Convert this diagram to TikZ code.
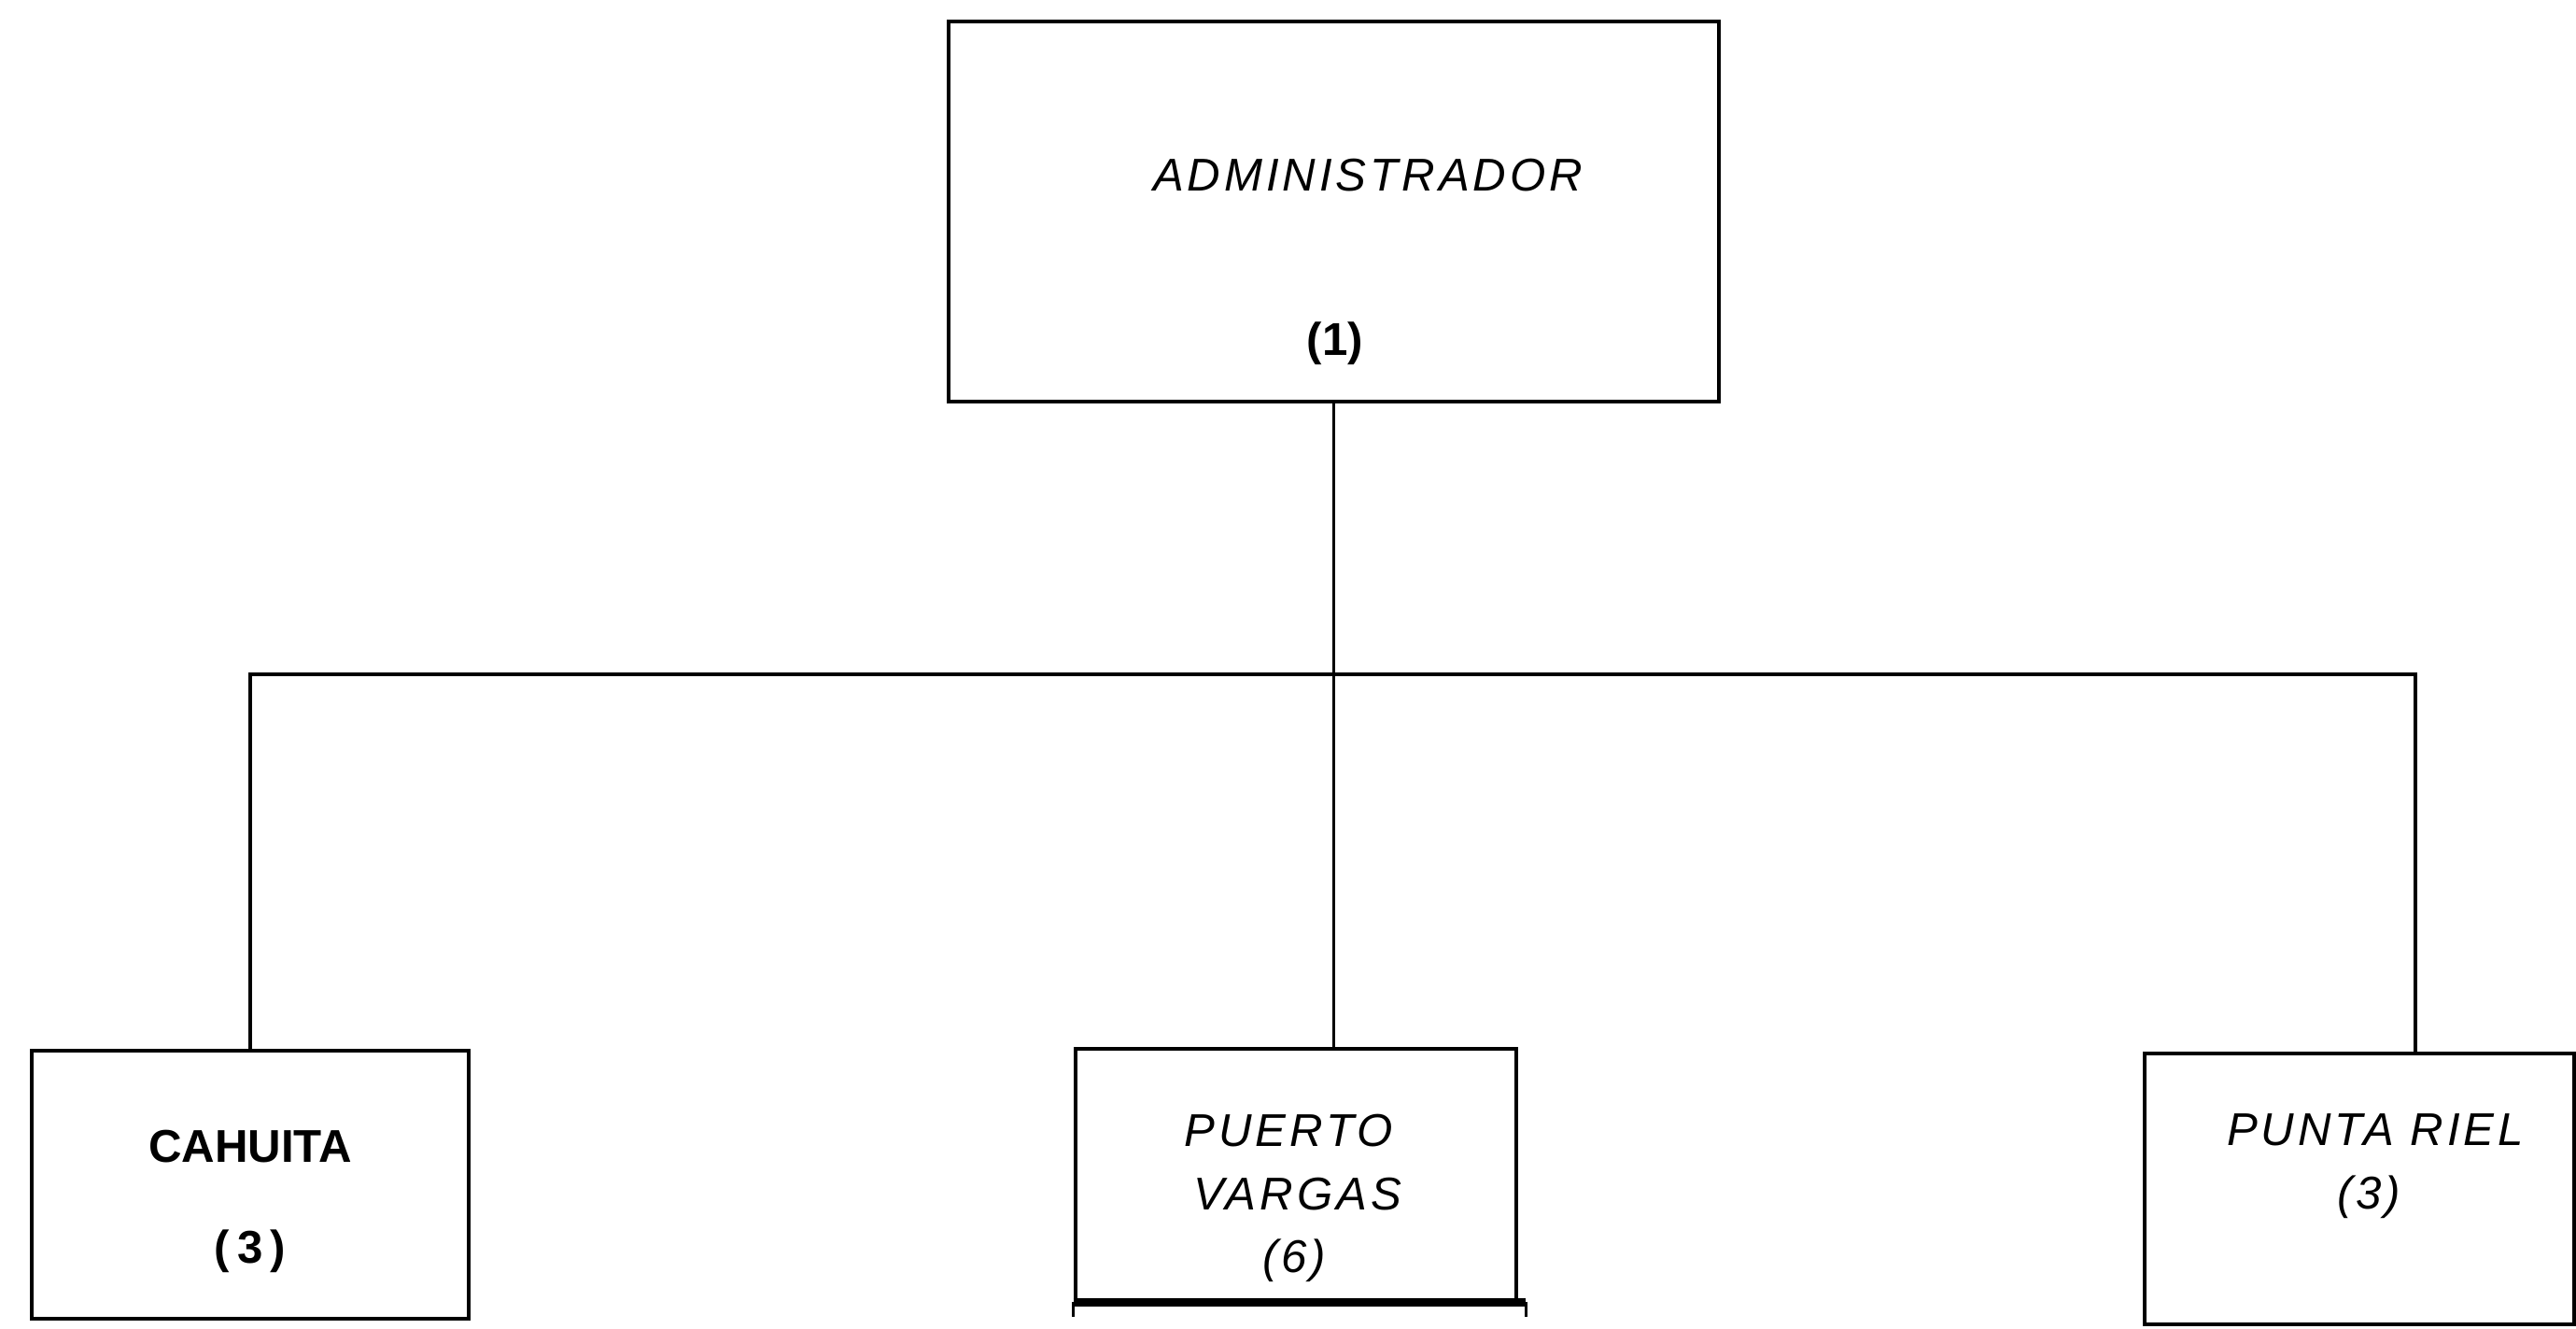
\documentclass[tikz,border=0pt]{standalone}
\usepackage{fontspec}
\setmainfont{Liberation Sans}
\usepackage{tikz}
\usetikzlibrary{positioning}

\tikzset{
  box/.style={draw,line width=1.3pt,rectangle,inner sep=0pt},
  link/.style={line width=1pt},
  bold/.style={font=\fontsize{14}{17}\selectfont\bfseries},
  slant/.style={font=\fontsize{14}{17}\selectfont\itshape\addfontfeature{LetterSpace=8}}
}

\begin{document}
\begin{tikzpicture}
\useasboundingbox (0,0) rectangle (27.59,-14.22);
% cajas
\node[box,minimum width=8.25cm,minimum height=4.07cm](adm) at (14.285,-2.265){};
\node[box,minimum width=4.68cm,minimum height=2.87cm](cah) at (2.68,-12.685){};
\node[box,minimum width=4.72cm,minimum height=2.69cm](pv) at (13.88,-12.575){};
\node[box,minimum width=4.60cm,minimum height=2.90cm](pr) at (25.27,-12.73){};
% textos
\node[slant](admt) at (14.65,-1.88){ADMINISTRADOR};
\node[bold](admn) at (14.30,-3.68){(1)};
\node[bold](caht) at (2.68,-12.28){CAHUITA};
\node[bold](cahn) at (2.68,-13.40){(\,3\,)};
\node[slant](pvt) at (13.80,-12.11){PUERTO};
\node[slant](pvv) at (13.90,-12.79){VARGAS};
\node[slant](pvn) at (13.86,-13.50){(6)};
\node[slant](prt) at (25.44,-12.10){PUNTA RIEL};
\node[slant](prn) at (25.37,-12.82){(3)};
% lineas
\coordinate (bus) at (14.28,-7.22);
\draw[link](adm.south)--(adm.south |- pv.north);
\draw[link](cah.north)|-(bus)-|([xshift=6mm]pr.north);
\draw[line width=2.6pt](pv.south west)--([xshift=0.8mm]pv.south east);
\draw[line width=1pt](pv.south west)--++(0,-0.16)
([xshift=0.8mm]pv.south east)--++(0,-0.16);
\end{tikzpicture}
\end{document}
